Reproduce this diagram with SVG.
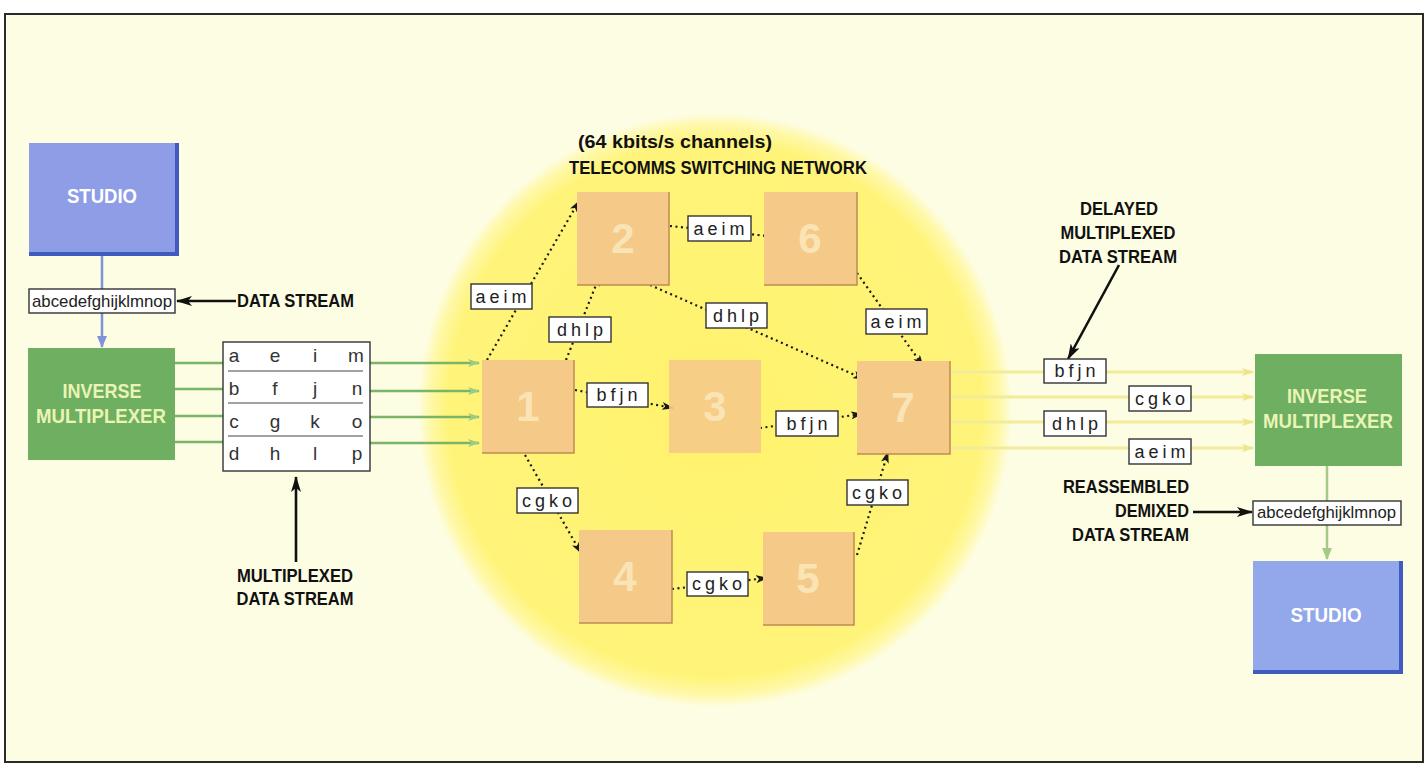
<svg xmlns="http://www.w3.org/2000/svg" width="1428" height="766" viewBox="0 0 1428 766">
<defs>
<radialGradient id="glow" cx="0.5" cy="0.5" r="0.5">
<stop offset="0" stop-color="#FFF26C"/>
<stop offset="0.9" stop-color="#FFF47A"/>
<stop offset="0.96" stop-color="#FFF8A8"/>
<stop offset="1" stop-color="#FDFDE3"/>
</radialGradient>
<marker id="ah" viewBox="0 0 12 8" refX="11" refY="4" markerWidth="12" markerHeight="8" markerUnits="userSpaceOnUse" orient="auto">
<path d="M0,0 L12,4 L0,8 L3,4 z" fill="#1a1a1a"/>
</marker>
<marker id="ahb" viewBox="0 0 16 10" refX="15" refY="5" markerWidth="16" markerHeight="10" markerUnits="userSpaceOnUse" orient="auto">
<path d="M0,0 L16,5 L0,10 L4,5 z" fill="#111"/>
</marker>
<marker id="ahg" viewBox="0 0 12 8" refX="11" refY="4" markerWidth="12" markerHeight="8" markerUnits="userSpaceOnUse" orient="auto">
<path d="M0,0 L12,4 L0,8 L3,4 z" fill="#9CCB86"/>
</marker>
<marker id="ahy" viewBox="0 0 12 8" refX="11" refY="4" markerWidth="12" markerHeight="8" markerUnits="userSpaceOnUse" orient="auto">
<path d="M0,0 L12,4 L0,8 L3,4 z" fill="#EEE48A"/>
</marker>
<marker id="ahbl" viewBox="0 0 12 10" refX="11" refY="5" markerWidth="12" markerHeight="14" markerUnits="userSpaceOnUse" orient="auto">
<path d="M0,0 L12,5 L0,10 z" fill="#7F93DA"/>
</marker>
<marker id="ahgr" viewBox="0 0 12 10" refX="11" refY="5" markerWidth="12" markerHeight="12" markerUnits="userSpaceOnUse" orient="auto">
<path d="M0,0 L12,5 L0,10 z" fill="#A6C98A"/>
</marker>
</defs>
<style>
text{font-family:"Liberation Sans",Arial,sans-serif;}
.lbl{font-weight:bold;font-size:18px;fill:#111;}
.lblr{font-weight:bold;font-size:18px;fill:#111;text-anchor:end;}
.lblc{font-weight:bold;font-size:18px;fill:#111;text-anchor:middle;}
.wt{font-weight:bold;font-size:20px;fill:#FFFFFF;text-anchor:middle;}
.mx{font-weight:bold;font-size:20px;fill:#EAF5B5;text-anchor:middle;}
.num{font-weight:bold;font-size:42px;fill:#FAE4B6;text-anchor:middle;}
.node{fill:#F5CA88;}
.edge{stroke:#C08A55;stroke-width:1.5;fill:none;}
.box{fill:#FFFFFF;stroke:#333;stroke-width:1.4;}
.bt{font-size:18px;fill:#222;text-anchor:middle;letter-spacing:4px;}
.st{font-size:17px;fill:#222;}
.mt{font-size:19px;fill:#333;text-anchor:middle;}
.dot{stroke:#1a1a1a;stroke-width:2.2;stroke-dasharray:2 3.5;fill:none;marker-end:url(#ah);}
.grn{stroke:#79B566;stroke-width:2.5;fill:none;}
.yl{stroke:#F2EB9A;stroke-width:3;fill:none;marker-end:url(#ahy);}
.blk{stroke:#111;stroke-width:2.6;fill:none;marker-end:url(#ahb);}
</style>
<rect x="0" y="0" width="1428" height="766" fill="#FFFFFF"/>
<rect x="5" y="14" width="1418" height="748" fill="#FDFDE3" stroke="#2a2a2a" stroke-width="2"/>
<circle cx="715" cy="410" r="297" fill="url(#glow)"/>

<g id="title">
<text class="lbl" x="578" y="148" textLength="194" lengthAdjust="spacingAndGlyphs">(64 kbits/s channels)</text>
<text class="lbl" x="569" y="174" textLength="298" lengthAdjust="spacingAndGlyphs">TELECOMMS SWITCHING NETWORK</text>
</g>

<g id="connectors">
<line x1="102" y1="256" x2="102" y2="347" stroke="#7F93DA" stroke-width="2.5" marker-end="url(#ahbl)"/>
<line class="grn" x1="175" y1="363" x2="223" y2="363"/>
<line class="grn" x1="175" y1="389" x2="223" y2="389"/>
<line class="grn" x1="175" y1="416" x2="223" y2="416"/>
<line class="grn" x1="175" y1="442" x2="223" y2="442"/>
<line class="grn" x1="370" y1="363" x2="479" y2="363" marker-end="url(#ahg)"/>
<line class="grn" x1="370" y1="391" x2="479" y2="391" marker-end="url(#ahg)"/>
<line class="grn" x1="370" y1="417" x2="479" y2="417" marker-end="url(#ahg)"/>
<line class="grn" x1="370" y1="443" x2="479" y2="443" marker-end="url(#ahg)"/>
<line class="blk" x1="236" y1="301" x2="177" y2="301"/>
<line class="blk" x1="296" y1="562" x2="296" y2="477"/>
<line class="blk" x1="1119" y1="265" x2="1068" y2="359"/>
<line class="blk" x1="1193" y1="512" x2="1252" y2="512"/>
<line class="yl" x1="951" y1="372" x2="1253" y2="372"/>
<line class="yl" x1="951" y1="397" x2="1253" y2="397"/>
<line class="yl" x1="951" y1="422" x2="1253" y2="422"/>
<line class="yl" x1="951" y1="448" x2="1253" y2="448"/>
<line x1="1327" y1="466" x2="1327" y2="559" stroke="#A6C98A" stroke-width="2.5" marker-end="url(#ahgr)"/>
<path class="dot" d="M487,360 L579,201"/>
<path class="dot" d="M566,360 L600,275"/>
<path class="dot" d="M670,226 L777,237"/>
<path class="dot" d="M650,285 L864,379"/>
<path class="dot" d="M575,390 L673,408"/>
<path class="dot" d="M760,428 L862,414"/>
<path class="dot" d="M857,273 L923,366"/>
<path class="dot" d="M525,455 L581,553"/>
<path class="dot" d="M672,589 L767,578"/>
<path class="dot" d="M857,555 L888,452"/>
</g>

<g id="studio-left">
<rect x="29" y="143" width="150" height="113" fill="#3F5BC0"/>
<rect x="29" y="143" width="146" height="109" fill="#8E9DE6"/>
<text class="wt" x="102" y="203" textLength="70" lengthAdjust="spacingAndGlyphs">STUDIO</text>
</g>
<g id="datastream-left">
<rect class="box" x="29" y="289" width="146" height="24"/>
<text class="st" x="32" y="307" textLength="140" lengthAdjust="spacingAndGlyphs">abcedefghijklmnop</text>
<text class="lbl" x="237" y="307" textLength="117" lengthAdjust="spacingAndGlyphs">DATA STREAM</text>
</g>
<g id="mux-left">
<rect x="28" y="348" width="147" height="112" fill="#6FAF62"/>
<text class="mx" x="102" y="398" textLength="79" lengthAdjust="spacingAndGlyphs">INVERSE</text>
<text class="mx" x="101" y="423" textLength="130" lengthAdjust="spacingAndGlyphs">MULTIPLEXER</text>
</g>
<g id="matrix">
<rect class="box" x="223" y="342" width="147" height="129"/>
<line x1="228" y1="371" x2="363" y2="371" stroke="#444" stroke-width="1.2"/>
<line x1="228" y1="403" x2="363" y2="403" stroke="#444" stroke-width="1.2"/>
<line x1="228" y1="436" x2="363" y2="436" stroke="#444" stroke-width="1.2"/>
<text class="mt" x="234" y="362">a</text><text class="mt" x="275" y="362">e</text><text class="mt" x="315" y="362">i</text><text class="mt" x="356" y="362">m</text>
<text class="mt" x="234" y="395">b</text><text class="mt" x="275" y="395">f</text><text class="mt" x="315" y="395">j</text><text class="mt" x="357" y="395">n</text>
<text class="mt" x="234" y="428">c</text><text class="mt" x="275" y="428">g</text><text class="mt" x="315" y="428">k</text><text class="mt" x="357" y="428">o</text>
<text class="mt" x="234" y="460">d</text><text class="mt" x="275" y="460">h</text><text class="mt" x="315" y="460">l</text><text class="mt" x="357" y="460">p</text>
</g>
<g id="label-multiplexed">
<text class="lblc" x="295" y="582" textLength="116" lengthAdjust="spacingAndGlyphs">MULTIPLEXED</text>
<text class="lblc" x="295" y="605" textLength="117" lengthAdjust="spacingAndGlyphs">DATA STREAM</text>
</g>

<g id="node1"><rect class="node" x="482" y="360" width="92" height="93"/><path class="edge" d="M574,360 V453 H482" stroke="#C06A50"/><text class="num" x="528" y="421">1</text></g>
<g id="node2"><rect class="node" x="577" y="192" width="92" height="93"/><path class="edge" d="M669,192 V285 H577"/><text class="num" x="623" y="253">2</text></g>
<g id="node3"><rect class="node" x="669" y="360" width="92" height="93" fill-opacity="0.9"/><text class="num" x="715" y="421">3</text></g>
<g id="node4"><rect class="node" x="579" y="530" width="93" height="93"/><path class="edge" d="M672,530 V623 H579" stroke="#D8A868"/><text class="num" x="625" y="591">4</text></g>
<g id="node5"><rect class="node" x="763" y="532" width="91" height="93"/><path class="edge" d="M854,532 V625 H763" stroke="#CFA064"/><text class="num" x="808" y="593">5</text></g>
<g id="node6"><rect class="node" x="764" y="192" width="93" height="93"/><path class="edge" d="M857,192 V285 H764" stroke="#D09A60"/><text class="num" x="810" y="253">6</text></g>
<g id="node7"><rect class="node" x="857" y="361" width="93" height="93"/><path class="edge" d="M950,361 V454 H857" stroke="#C99A60"/><text class="num" x="903" y="422">7</text></g>

<g id="labels">
<rect class="box" x="471" y="284" width="61" height="25"/><text class="bt" x="503" y="303">aeim</text>
<rect class="box" x="549" y="317" width="62" height="25"/><text class="bt" x="582" y="336">dhlp</text>
<rect class="box" x="688" y="216" width="63" height="25"/><text class="bt" x="721" y="235">aeim</text>
<rect class="box" x="706" y="303" width="61" height="25"/><text class="bt" x="738" y="322">dhlp</text>
<rect class="box" x="587" y="383" width="61" height="24"/><text class="bt" x="619" y="401">bfjn</text>
<rect class="box" x="776" y="411" width="62" height="25"/><text class="bt" x="809" y="430">bfjn</text>
<rect class="box" x="866" y="309" width="61" height="25"/><text class="bt" x="898" y="328">aeim</text>
<rect class="box" x="517" y="488" width="61" height="25"/><text class="bt" x="549" y="507">cgko</text>
<rect class="box" x="687" y="572" width="61" height="24"/><text class="bt" x="719" y="590">cgko</text>
<rect class="box" x="847" y="480" width="61" height="25"/><text class="bt" x="879" y="499">cgko</text>
<rect class="box" x="1044" y="359" width="62" height="24"/><text class="bt" x="1077" y="377">bfjn</text>
<rect class="box" x="1129" y="386" width="62" height="25"/><text class="bt" x="1162" y="405">cgko</text>
<rect class="box" x="1044" y="411" width="62" height="25"/><text class="bt" x="1077" y="430">dhlp</text>
<rect class="box" x="1129" y="439" width="62" height="25"/><text class="bt" x="1162" y="458">aeim</text>
</g>

<g id="label-delayed">
<text class="lblc" x="1119" y="215" textLength="78" lengthAdjust="spacingAndGlyphs">DELAYED</text>
<text class="lblc" x="1118" y="239" textLength="115" lengthAdjust="spacingAndGlyphs">MULTIPLEXED</text>
<text class="lblc" x="1118" y="263" textLength="118" lengthAdjust="spacingAndGlyphs">DATA STREAM</text>
</g>
<g id="mux-right">
<rect x="1255" y="354" width="147" height="112" fill="#6FAF62"/>
<text class="mx" x="1327" y="403" textLength="80" lengthAdjust="spacingAndGlyphs">INVERSE</text>
<text class="mx" x="1328" y="428" textLength="130" lengthAdjust="spacingAndGlyphs">MULTIPLEXER</text>
</g>
<g id="label-reassembled">
<text class="lblr" x="1189" y="493" textLength="126" lengthAdjust="spacingAndGlyphs">REASSEMBLED</text>
<text class="lblr" x="1189" y="517" textLength="74" lengthAdjust="spacingAndGlyphs">DEMIXED</text>
<text class="lblr" x="1189" y="541" textLength="117" lengthAdjust="spacingAndGlyphs">DATA STREAM</text>
</g>
<g id="datastream-right">
<rect class="box" x="1253" y="501" width="148" height="24"/>
<text class="st" x="1257" y="518" textLength="139" lengthAdjust="spacingAndGlyphs">abcedefghijklmnop</text>
</g>
<g id="studio-right">
<rect x="1253" y="561" width="150" height="113" fill="#3F5BC0"/>
<rect x="1253" y="561" width="146" height="109" fill="#93A8EA"/>
<text class="wt" x="1326" y="622" textLength="71" lengthAdjust="spacingAndGlyphs">STUDIO</text>
</g>
</svg>
